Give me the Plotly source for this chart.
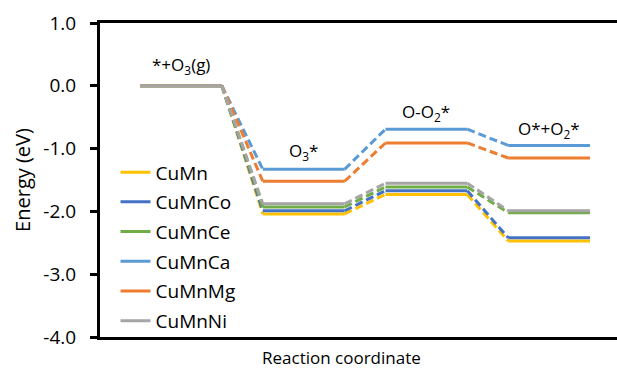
import plotly.graph_objects as go

# Energy profile of O3 decomposition on the catalyst surfaces
states = ["*+O<sub>3</sub>(g)", "O<sub>3</sub>*", "O-O<sub>2</sub>*", "O*+O<sub>2</sub>*"]
series_names = ["CuMn", "CuMnCo", "CuMnCe", "CuMnCa", "CuMnMg", "CuMnNi"]
energies = {
    "CuMn":   [0.0, -2.04, -1.73, -2.47],
    "CuMnCo": [0.0, -1.99, -1.67, -2.42],
    "CuMnCe": [0.0, -1.93, -1.61, -2.02],
    "CuMnCa": [0.0, -1.33, -0.69, -0.95],
    "CuMnMg": [0.0, -1.52, -0.91, -1.15],
    "CuMnNi": [0.0, -1.88, -1.55, -1.99],
}
colors = {
    "CuMn": "#FFC000",
    "CuMnCo": "#4472C4",
    "CuMnCe": "#70AD47",
    "CuMnCa": "#5B9BD5",
    "CuMnMg": "#ED7D31",
    "CuMnNi": "#A5A5A5",
}
y_ticks = [1.0, 0.0, -1.0, -2.0, -3.0, -4.0]

LEVEL_W = 2.0   # width of each energy plateau on the reaction axis
STEP = 3.0      # spacing between consecutive states

FONT = "Open Sans"
fig = go.Figure()

for name in series_names:
    e = energies[name]
    c = colors[name]
    # solid plateaus
    xs, ys = [], []
    for i, v in enumerate(e):
        x0 = i * STEP
        xs += [x0, x0 + LEVEL_W, None]
        ys += [v, v, None]
    # dashed connectors between plateaus
    dx, dy = [], []
    for i in range(len(e) - 1):
        dx += [i * STEP + LEVEL_W, (i + 1) * STEP, None]
        dy += [e[i], e[i + 1], None]
    fig.add_trace(go.Scatter(
        x=dx, y=dy, mode="lines", showlegend=False, hoverinfo="skip",
        line=dict(color=c, width=3, dash="8px,4px"),
        legendgroup=name,
    ))
    fig.add_trace(go.Scatter(
        x=xs, y=ys, mode="lines", name=name,
        line=dict(color=c, width=3),
        legendgroup=name,
    ))

# state labels above the plateaus (vertical centre of each label, in eV)
label_y = [0.32, -1.05, -0.43, -0.70]
for i, s in enumerate(states):
    fig.add_annotation(
        x=i * STEP + LEVEL_W / 2, y=label_y[i],
        text=s, showarrow=False, yanchor="middle",
        font=dict(family=FONT, size=17, color="#000000"),
    )

# x-axis caption
fig.add_annotation(
    x=0.468, y=-0.065, xref="paper", yref="paper",
    text="Reaction coordinate", showarrow=False,
    xanchor="center", yanchor="middle",
    font=dict(family=FONT, size=17, color="#000000"),
)

fig.update_layout(
    width=617, height=373,
    margin=dict(l=100, r=0, t=23, b=36),
    paper_bgcolor="white", plot_bgcolor="white",
    font=dict(family=FONT, size=18, color="#000000"),
    showlegend=True,
    legend=dict(
        x=0.03, y=0.585, xanchor="left", yanchor="top",
        bgcolor="rgba(0,0,0,0)", traceorder="grouped", tracegroupgap=2,
        font=dict(family=FONT, size=19, color="#000000"),
    ),
    xaxis=dict(
        range=[-0.98, 11.66], showticklabels=False, ticks="",
        showgrid=False, zeroline=False,
        showline=True, linecolor="black", linewidth=3, mirror=True,
    ),
    yaxis=dict(
        range=[-4.0, 1.0], tickvals=y_ticks,
        ticktext=[f"{v:.1f}" for v in y_ticks],
        ticks="outside", ticklen=7, tickwidth=2.5, tickcolor="black",
        ticklabelstandoff=10,
        showgrid=False, zeroline=False,
        showline=True, linecolor="black", linewidth=3,
        title=dict(text="Energy (eV)", standoff=8,
                   font=dict(family=FONT, size=20)),
        tickfont=dict(family=FONT, size=19),
    ),
)

fig.write_html("out.html")
